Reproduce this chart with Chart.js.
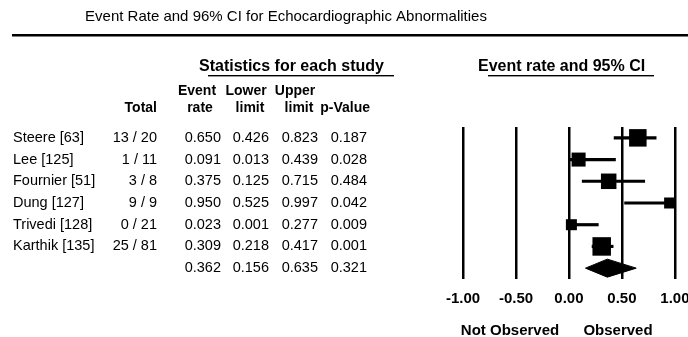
<!DOCTYPE html>
<html><head><meta charset="utf-8">
<script src="https://cdn.jsdelivr.net/npm/chart.js@4.4.1/dist/chart.umd.min.js"></script>
<style>html,body{margin:0;padding:0;background:#fff;overflow:hidden}canvas{display:block}</style>
</head><body>
<canvas id="c" width="688" height="337"></canvas>
<script>
// ---- data ----
const titleText = 'Event Rate and 96% CI for Echocardiographic Abnormalities';
const studies = ['Steere [63]', 'Lee [125]', 'Fournier [51]', 'Dung [127]', 'Trivedi [128]', 'Karthik [135]'];
const totals = ['13 / 20', '1 / 11', '3 / 8', '9 / 9', '0 / 21', '25 / 81'];
const eventRate = [0.650, 0.091, 0.375, 0.950, 0.023, 0.309];
const lowerLimit = [0.426, 0.013, 0.125, 0.525, 0.001, 0.218];
const upperLimit = [0.823, 0.439, 0.715, 0.997, 0.277, 0.417];
const pValue = [0.187, 0.028, 0.484, 0.042, 0.009, 0.001];
const summaryRate = 0.362, summaryLower = 0.156, summaryUpper = 0.635, summaryP = 0.321;
const xTicks = [-1, -0.5, 0, 0.5, 1];
const tickLabels = ['-1.00', '-0.50', '0.00', '0.50', '1.00'];

// ---- styles ----
const markerSide = [17.5, 14, 15.5, 11, 11, 18.5];
const F = '"Liberation Sans", Arial, sans-serif';
const summaryRow = studies.length;
const diamondHalf = 0.415;

const fmt = v => v.toFixed(3);

const tablePlugin = {
  id: 'table',
  afterDraw(chart) {
    const ctx = chart.ctx;
    const ys = chart.scales.y;
    ctx.save();
    ctx.fillStyle = '#000';
    ctx.textBaseline = 'middle';
    // title
    ctx.font = '15px ' + F;
    ctx.textAlign = 'center';
    ctx.fillText(titleText, 286, 17);
    ctx.fillRect(12, 34, 676, 2.5);
    // section headers
    ctx.font = 'bold 16px ' + F;
    ctx.textAlign = 'left';
    ctx.fillText('Statistics for each study', 199, 67);
    ctx.fillRect(208, 75, 186, 1.4);
    ctx.fillText('Event rate and 95% CI', 478, 67);
    ctx.fillRect(488, 75, 166, 1.4);
    // column headers
    ctx.font = 'bold 14px ' + F;
    ctx.textAlign = 'right';
    ctx.fillText('Total', 157, 108);
    ctx.fillText('p-Value', 370, 108);
    ctx.textAlign = 'center';
    ctx.fillText('Event', 197, 91); ctx.fillText('rate', 200, 108);
    ctx.fillText('Lower', 246, 91); ctx.fillText('limit', 250, 108);
    ctx.fillText('Upper', 295, 91); ctx.fillText('limit', 299, 108);
    // rows
    ctx.font = '14.5px ' + F;
    const rows = studies.map((s, i) => [s, totals[i], eventRate[i], lowerLimit[i], upperLimit[i], pValue[i]]);
    rows.push(['', '', summaryRate, summaryLower, summaryUpper, summaryP]);
    rows.forEach((r, i) => {
      const y = ys.getPixelForValue(i);
      ctx.textAlign = 'left';
      ctx.fillText(r[0], 13, y);
      ctx.textAlign = 'right';
      ctx.fillText(r[1], 157, y);
      ctx.fillText(fmt(r[2]), 221, y);
      ctx.fillText(fmt(r[3]), 269, y);
      ctx.fillText(fmt(r[4]), 318, y);
      ctx.fillText(fmt(r[5]), 367, y);
    });
    // axis captions
    ctx.font = 'bold 15px ' + F;
    ctx.textAlign = 'center';
    ctx.fillText('Not Observed', 510, 331);
    ctx.fillText('Observed', 618, 331);
    ctx.restore();
  }
};

new Chart(document.getElementById('c'), {
  type: 'scatter',
  data: {
    datasets: [
      {
        type: 'bar',
        indexAxis: 'y',
        data: studies.map((s, i) => ({ y: i, x: [lowerLimit[i], upperLimit[i]] })),
        backgroundColor: '#000',
        borderWidth: 0,
        barThickness: 2.5,
        grouped: false,
        clip: false
      },
      {
        type: 'scatter',
        data: studies.map((s, i) => ({ x: eventRate[i], y: i })),
        pointStyle: 'rect',
        pointRadius: markerSide.map(s => s / Math.SQRT2),
        pointHoverRadius: markerSide.map(s => s / Math.SQRT2),
        backgroundColor: '#000',
        borderWidth: 0,
        clip: false
      },
      {
        type: 'line',
        data: [
          { x: summaryLower, y: summaryRow },
          { x: summaryRate, y: summaryRow - diamondHalf },
          { x: summaryUpper, y: summaryRow },
          { x: summaryRate, y: summaryRow + diamondHalf },
          { x: summaryLower, y: summaryRow }
        ],
        borderColor: '#000',
        backgroundColor: '#000',
        borderWidth: 1,
        pointRadius: 0,
        tension: 0,
        fill: 'shape',
        clip: false
      }
    ]
  },
  options: {
    responsive: false,
    animation: false,
    devicePixelRatio: 1,
    events: [],
    layout: { padding: { left: 463, right: 11, top: 127, bottom: 18 } },
    plugins: { legend: { display: false }, tooltip: { enabled: false }, title: { display: false } },
    scales: {
      x: {
        type: 'linear',
        min: -1, max: 1,
        offset: false,
        afterBuildTicks: s => { s.ticks = xTicks.map(v => ({ value: v })); },
        afterFit: s => { s.height = 40; s.paddingLeft = 0; s.paddingRight = 0; },
        ticks: {
          callback: (v, i) => tickLabels[i],
          color: '#000',
          font: { family: F, size: 15, weight: 'bold' },
          padding: 11,
          maxRotation: 0,
          autoSkip: false
        },
        grid: { color: '#000', lineWidth: 2.5, drawTicks: false, offset: false },
        border: { display: false }
      },
      y: {
        type: 'linear',
        reverse: true,
        offset: false,
        min: -0.5, max: 6.5,
        display: false
      }
    }
  },
  plugins: [tablePlugin]
});
</script>
</body></html>
